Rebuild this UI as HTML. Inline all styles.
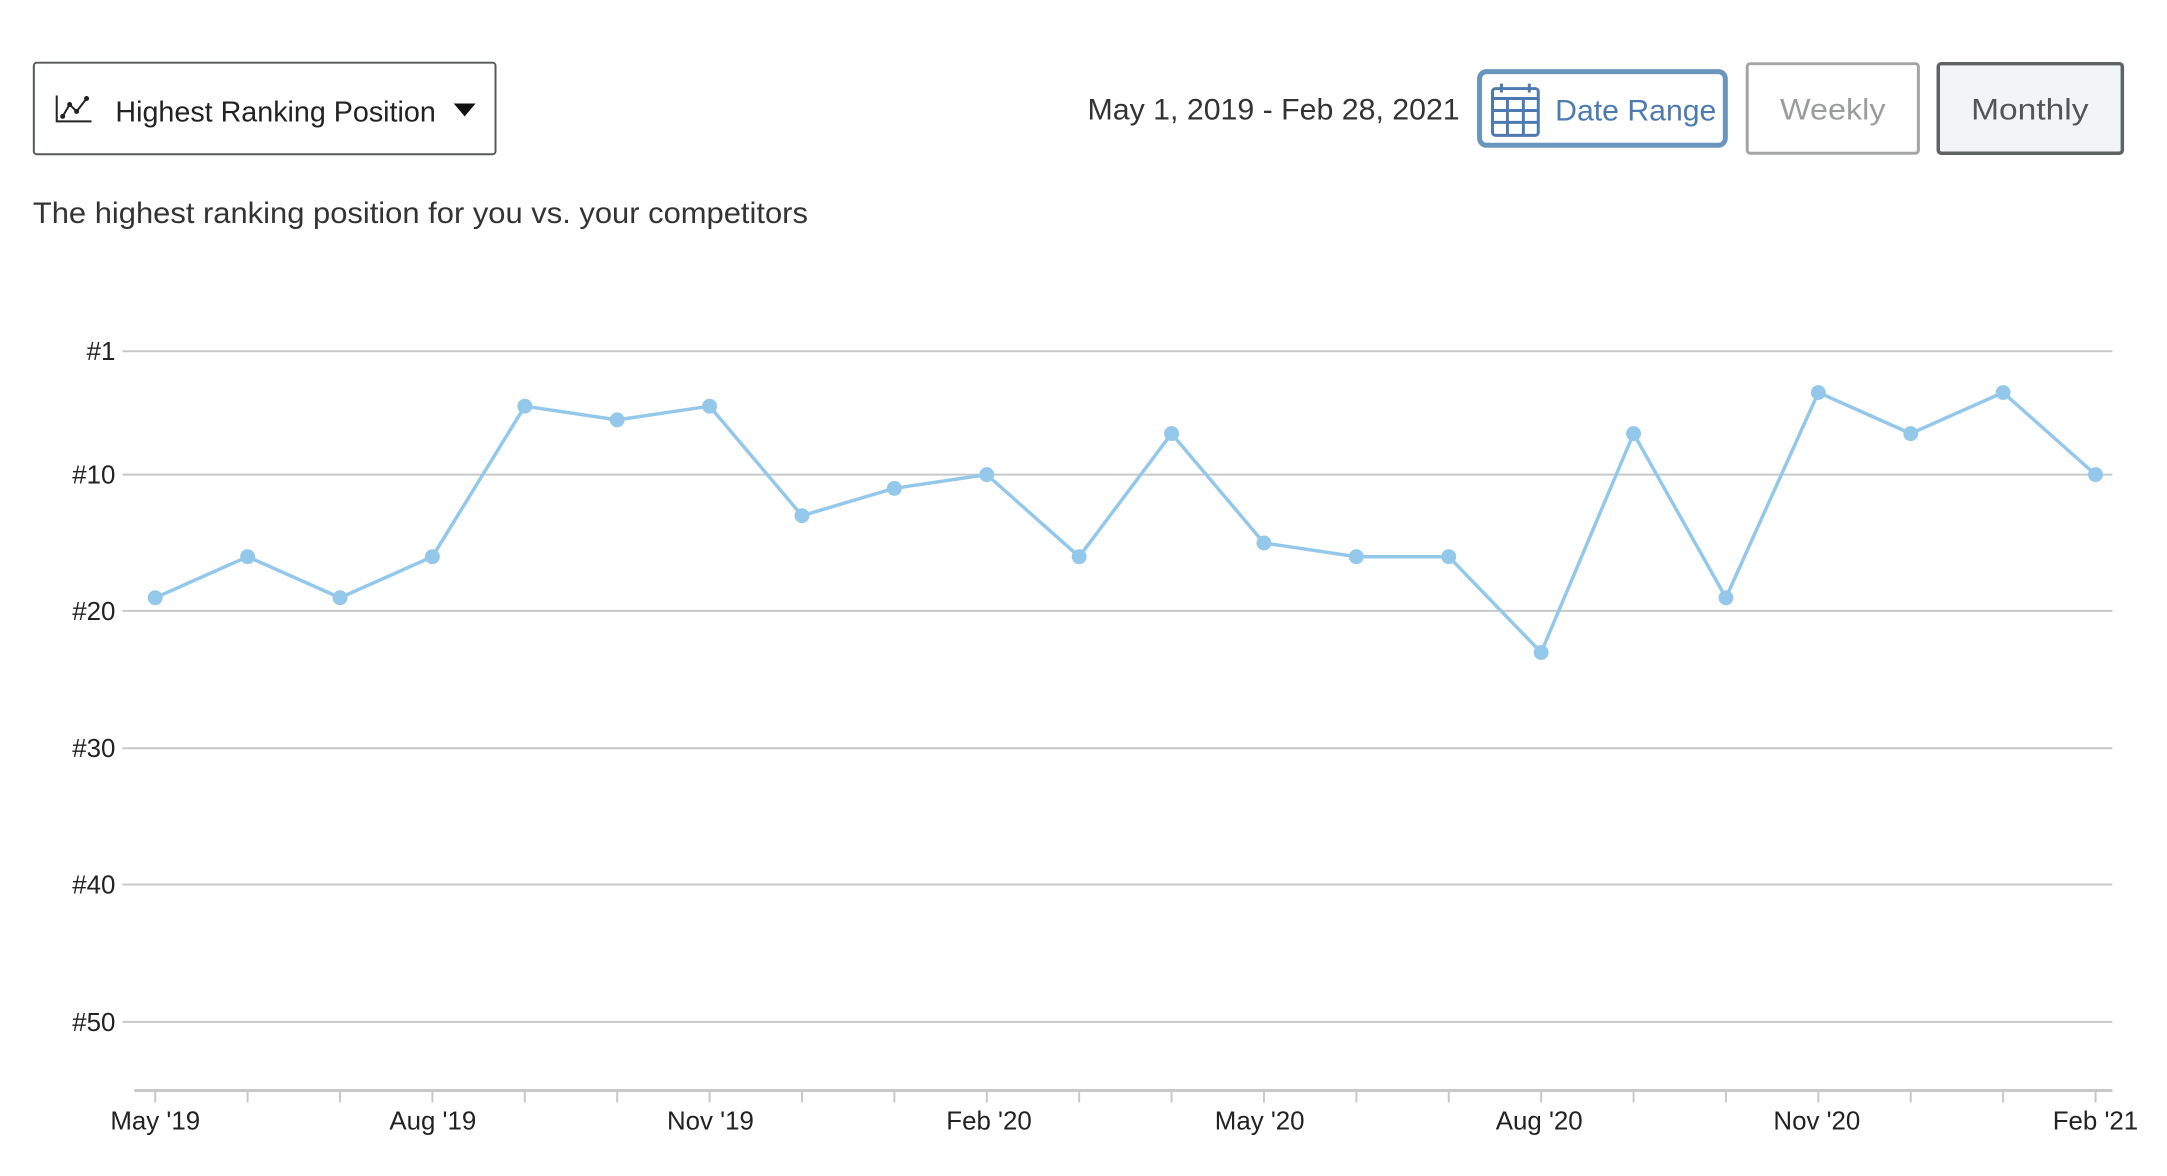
<!DOCTYPE html>
<html><head><meta charset="utf-8"><style>
html,body{margin:0;padding:0;background:#fff;width:2167px;height:1176px;overflow:hidden}
svg{display:block}
text{font-family:"Liberation Sans",sans-serif}
</style></head><body>
<svg width="2167" height="1176" viewBox="0 0 2167 1176" xmlns="http://www.w3.org/2000/svg">
<g transform="scale(0.995)">
<!-- dropdown -->
<rect x="34" y="63" width="464" height="92" rx="3" fill="#fff" stroke="#555a58" stroke-width="2"/>
<g stroke="#222" stroke-width="2" fill="none"><path d="M57 96 V122 H92"/><path d="M63 117 L70 105 L77 112 L87 99"/></g>
<g fill="#222"><circle cx="63" cy="117" r="2.5"/><circle cx="70" cy="105" r="2.5"/><circle cx="77" cy="112" r="2.5"/><circle cx="87" cy="99" r="2.5"/></g>
<text x="116" y="122" font-size="29" fill="#222" textLength="322" lengthAdjust="spacingAndGlyphs">Highest Ranking Position</text>
<path d="M456 104 L478 104 L467 117 Z" fill="#111"/>
<text x="33" y="224" font-size="30" fill="#333" textLength="779" lengthAdjust="spacingAndGlyphs">The highest ranking position for you vs. your competitors</text>
<!-- date -->
<text x="1467" y="120" font-size="30" fill="#333" text-anchor="end" textLength="374" lengthAdjust="spacingAndGlyphs">May 1, 2019 - Feb 28, 2021</text>
<rect x="1487" y="72" width="247" height="74" rx="7" fill="#fff" stroke="#6a96be" stroke-width="5"/>
<g stroke="#4d7ab0" stroke-width="3" fill="none"><rect x="1500" y="89" width="46" height="47" rx="3"/><path d="M1500 99 H1546 M1500 111 H1546 M1500 123 H1546 M1515 99 V136 M1531 99 V136 M1509 84 V93 M1537 84 V93"/></g>
<text x="1563" y="121" font-size="30" fill="#4d7ab0" textLength="162" lengthAdjust="spacingAndGlyphs">Date Range</text>
<rect x="1756" y="64" width="172" height="90" rx="3" fill="#fff" stroke="#a3a5a5" stroke-width="3"/>
<text x="1842" y="120" font-size="30" fill="#9b9d9d" text-anchor="middle" textLength="106" lengthAdjust="spacingAndGlyphs">Weekly</text>
<rect x="1948" y="64" width="185" height="90" rx="3" fill="#f2f5f5" stroke="#5c6361" stroke-width="3.5"/>
<text x="2040" y="120" font-size="30" fill="#555" text-anchor="middle" textLength="118" lengthAdjust="spacingAndGlyphs">Monthly</text>
<!-- grid -->
<g stroke="#c8c8c8" stroke-width="2">
<line x1="123" y1="353" x2="2123" y2="353"/>
<line x1="123" y1="477" x2="2123" y2="477"/>
<line x1="123" y1="614" x2="2123" y2="614"/>
<line x1="123" y1="752" x2="2123" y2="752"/>
<line x1="123" y1="889" x2="2123" y2="889"/>
<line x1="123" y1="1027" x2="2123" y2="1027"/>
<line x1="135" y1="1096" x2="2123" y2="1096" stroke-width="3"/>
</g>
<g font-size="26" fill="#222" text-anchor="end">
<text x="116" y="362">#1</text><text x="116" y="486">#10</text><text x="116" y="623">#20</text>
<text x="116" y="761">#30</text><text x="116" y="898">#40</text><text x="116" y="1036">#50</text>
</g>
<g stroke="#c8c8c8" stroke-width="2">
<path d="M156 1097V1108M248.86 1097V1108M341.72 1097V1108M434.58 1097V1108M527.44 1097V1108M620.3 1097V1108M713.16 1097V1108M806.02 1097V1108M898.88 1097V1108M991.74 1097V1108M1084.6 1097V1108M1177.46 1097V1108M1270.32 1097V1108M1363.18 1097V1108M1456.04 1097V1108M1548.9 1097V1108M1641.76 1097V1108M1734.62 1097V1108M1827.48 1097V1108M1920.34 1097V1108M2013.2 1097V1108M2106.06 1097V1108"/>
</g>
<g font-size="26" fill="#222" text-anchor="middle">
<text x="156" y="1135">May '19</text><text x="435" y="1135">Aug '19</text><text x="714" y="1135">Nov '19</text>
<text x="994" y="1135">Feb '20</text><text x="1266" y="1135">May '20</text><text x="1547" y="1135">Aug '20</text>
<text x="1826" y="1135">Nov '20</text><text x="2106" y="1135">Feb '21</text>
</g>
<polyline fill="none" stroke="#94c8ea" stroke-width="3.5" stroke-linejoin="round" points="156,600.75 248.86,559.5 341.72,600.75 434.58,559.5 527.44,408.25 620.3,422 713.16,408.25 806.02,518.25 898.88,490.75 991.74,477 1084.6,559.5 1177.46,435.75 1270.32,545.75 1363.18,559.5 1456.04,559.5 1548.9,655.75 1641.76,435.75 1734.62,600.75 1827.48,394.5 1920.34,435.75 2013.2,394.5 2106.06,477"/>
<g fill="#94c8ea">
<circle cx="156" cy="600.75" r="7.5"/><circle cx="248.86" cy="559.5" r="7.5"/><circle cx="341.72" cy="600.75" r="7.5"/><circle cx="434.58" cy="559.5" r="7.5"/><circle cx="527.44" cy="408.25" r="7.5"/><circle cx="620.3" cy="422" r="7.5"/><circle cx="713.16" cy="408.25" r="7.5"/><circle cx="806.02" cy="518.25" r="7.5"/><circle cx="898.88" cy="490.75" r="7.5"/><circle cx="991.74" cy="477" r="7.5"/><circle cx="1084.6" cy="559.5" r="7.5"/><circle cx="1177.46" cy="435.75" r="7.5"/><circle cx="1270.32" cy="545.75" r="7.5"/><circle cx="1363.18" cy="559.5" r="7.5"/><circle cx="1456.04" cy="559.5" r="7.5"/><circle cx="1548.9" cy="655.75" r="7.5"/><circle cx="1641.76" cy="435.75" r="7.5"/><circle cx="1734.62" cy="600.75" r="7.5"/><circle cx="1827.48" cy="394.5" r="7.5"/><circle cx="1920.34" cy="435.75" r="7.5"/><circle cx="2013.2" cy="394.5" r="7.5"/><circle cx="2106.06" cy="477" r="7.5"/>
</g>
</g>
</svg>
</body></html>
